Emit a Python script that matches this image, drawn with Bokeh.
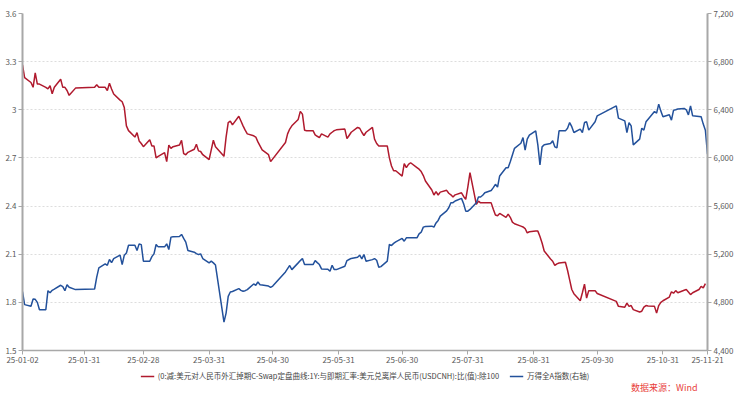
import pandas as pd
from bokeh.plotting import figure
from bokeh.layouts import column
from bokeh.models import (LinearAxis, Range1d, FixedTicker, DatetimeTickFormatter,
                          NumeralTickFormatter, Legend, LegendItem, Label)
from bokeh.embed import file_html
from bokeh.resources import INLINE

YEAR = "2025-"

swap_dates = ["01-02","01-03","01-06","01-07","01-08","01-09","01-10","01-13","01-14","01-15","01-16","01-17",
    "01-20","01-21","01-22","01-23","01-24","01-27","02-05","02-06","02-07","02-10","02-11","02-12","02-13","02-14",
    "02-17","02-18","02-19","02-20","02-21","02-24","02-25","02-26","02-27","02-28","03-03","03-04","03-05","03-06",
    "03-07","03-10","03-11","03-12","03-13","03-14","03-17","03-18","03-19","03-20","03-21","03-24","03-25","03-26",
    "03-27","03-28","03-31","04-01","04-02","04-03","04-07","04-08","04-09","04-10","04-11","04-14","04-15","04-16",
    "04-17","04-18","04-21","04-22","04-23","04-24","04-25","04-28","04-29","05-06","05-07","05-08","05-09","05-12",
    "05-13","05-14","05-15","05-16","05-19","05-20","05-21","05-22","05-23","05-26","05-27","05-28","05-29","05-30",
    "06-03","06-04","06-05","06-06","06-09","06-10","06-11","06-12","06-13","06-16","06-17","06-18","06-19","06-20",
    "06-23","06-24","06-25","06-26","06-27","06-30","07-01","07-02","07-03","07-04","07-07","07-08","07-09","07-10",
    "07-11","07-14","07-15","07-16","07-17","07-18","07-21","07-22","07-23","07-24","07-25","07-28","07-29","07-30",
    "07-31","08-01","08-04","08-05","08-06","08-07","08-08","08-11","08-12","08-13","08-14","08-15","08-18","08-19",
    "08-20","08-21","08-22","08-25","08-26","08-27","08-28","08-29","09-01","09-02","09-03","09-04","09-05","09-08",
    "09-09","09-10","09-11","09-12","09-15","09-16","09-17","09-18","09-19","09-22","09-23","09-24","09-25","09-26",
    "09-29","09-30","10-09","10-10","10-13","10-14","10-15","10-16","10-17","10-20","10-21","10-22","10-23","10-24",
    "10-27","10-28","10-29","10-30","10-31","11-03","11-04","11-05","11-06","11-07","11-10","11-11","11-12","11-13",
    "11-14","11-17","11-18","11-19","11-20"]
swap_values = [3.28,3.20,3.17,3.14,3.23,3.16,3.16,3.14,3.13,3.15,3.10,3.14,
    3.19,3.14,3.14,3.12,3.09,3.135,3.14,3.156,3.14,3.14,3.12,3.165,3.13,3.098,
    3.06,3.05,3.014,2.90,2.87,2.83,2.858,2.806,2.79,2.77,2.814,2.775,2.775,2.70,
    2.71,2.733,2.677,2.78,2.76,2.77,2.78,2.81,2.727,2.72,2.735,2.754,2.785,2.744,
    2.74,2.72,2.69,2.75,2.81,2.77,2.71,2.83,2.92,2.93,2.906,2.96,2.93,2.90,
    2.873,2.85,2.838,2.83,2.80,2.775,2.75,2.72,2.677,2.796,2.85,2.88,2.90,2.94,
    2.99,2.973,2.873,2.87,2.87,2.844,2.835,2.827,2.85,2.83,2.85,2.86,2.87,2.875,
    2.88,2.82,2.84,2.86,2.89,2.885,2.86,2.84,2.86,2.89,2.817,2.79,2.775,2.775,
    2.775,2.70,2.65,2.62,2.62,2.587,2.665,2.64,2.66,2.67,2.64,2.63,2.615,2.59,
    2.556,2.50,2.469,2.49,2.469,2.487,2.498,2.48,2.47,2.456,2.47,2.483,2.46,2.442,
    2.52,2.608,2.41,2.431,2.42,2.42,2.42,2.42,2.38,2.344,2.34,2.354,2.33,2.35,
    2.33,2.30,2.29,2.275,2.27,2.26,2.233,2.24,2.244,2.244,2.21,2.17,2.12,2.07,
    2.056,2.03,2.04,2.045,2.05,2.00,1.94,1.88,1.854,1.81,1.86,1.914,1.827,1.873,
    1.873,1.855,1.806,1.775,1.77,1.795,1.775,1.78,1.755,1.74,1.745,1.77,1.78,1.778,
    1.775,1.733,1.78,1.80,1.81,1.833,1.866,1.857,1.873,1.86,1.875,1.88,1.865,1.848,
    1.86,1.88,1.90,1.89,1.917]

wind_dates = ["01-02","01-03","01-06","01-07","01-08","01-09","01-10","01-13","01-14","01-15","01-16","01-17",
    "01-20","01-21","01-22","01-23","01-24","01-27","02-05","02-06","02-07","02-10","02-11","02-12","02-13","02-14",
    "02-17","02-18","02-19","02-20","02-21","02-24","02-25","02-26","02-27","02-28","03-03","03-04","03-05","03-06",
    "03-07","03-10","03-11","03-12","03-13","03-14","03-17","03-18","03-19","03-20","03-21","03-24","03-25","03-26",
    "03-27","03-28","03-31","04-01","04-02","04-03","04-07","04-08","04-09","04-10","04-11","04-14","04-15","04-16",
    "04-17","04-18","04-21","04-22","04-23","04-24","04-25","04-28","04-29","04-30","05-06","05-07","05-08","05-09",
    "05-12","05-13","05-14","05-15","05-16","05-19","05-20","05-21","05-22","05-23","05-26","05-27","05-28","05-29",
    "05-30","06-03","06-04","06-05","06-06","06-09","06-10","06-11","06-12","06-13","06-16","06-17","06-18","06-19",
    "06-20","06-23","06-24","06-25","06-26","06-27","06-30","07-01","07-02","07-03","07-04","07-07","07-08","07-09",
    "07-10","07-11","07-14","07-15","07-16","07-17","07-18","07-21","07-22","07-23","07-24","07-25","07-28","07-29",
    "07-30","07-31","08-01","08-04","08-05","08-06","08-07","08-08","08-11","08-12","08-13","08-14","08-15","08-18",
    "08-19","08-20","08-21","08-22","08-25","08-26","08-27","08-28","08-29","09-01","09-02","09-03","09-04","09-05",
    "09-08","09-09","09-10","09-11","09-12","09-15","09-16","09-17","09-18","09-19","09-22","09-23","09-24","09-25",
    "09-26","09-29","09-30","10-09","10-10","10-13","10-14","10-15","10-16","10-17","10-20","10-21","10-22","10-23",
    "10-24","10-27","10-28","10-29","10-30","10-31","11-03","11-04","11-05","11-06","11-07","11-10","11-11","11-12",
    "11-13","11-14","11-17","11-18","11-19","11-20","11-21"]
wind_values = [4890,4781,4767,4828,4825,4800,4739,4739,4897,4880,4900,4910,
    4942,4930,4897,4947,4925,4906,4911,5010,5086,5119,5108,5156,5130,5163,
    5192,5114,5192,5210,5275,5275,5231,5286,5280,5142,5142,5180,5203,5281,
    5261,5261,5286,5239,5342,5345,5347,5364,5331,5300,5231,5217,5205,5197,
    5203,5164,5128,5142,5128,5110,4636,4711,4850,4886,4890,4914,4900,4892,
    4897,4906,4953,4942,4969,4947,4945,4935,4925,4935,5053,5080,5106,5072,
    5128,5147,5164,5114,5114,5114,5147,5130,5114,5078,5075,5058,5108,5072,
    5072,5100,5147,5156,5165,5175,5192,5161,5197,5142,5155,5164,5150,5092,
    5097,5142,5281,5272,5290,5303,5331,5308,5336,5336,5336,5336,5369,5383,
    5425,5430,5433,5425,5460,5481,5517,5560,5586,5628,5628,5642,5664,5620,
    5558,5558,5572,5628,5675,5675,5690,5711,5730,5753,5781,5758,5850,5919,
    5919,5969,6025,6080,6122,6169,6064,6156,6190,6225,6108,5942,6092,6110,
    6120,6142,6092,6083,6225,6225,6247,6294,6260,6211,6239,6211,6294,6300,
    6231,6300,6350,6433,6331,6308,6211,6294,6267,6108,6156,6247,6231,6300,
    6322,6386,6372,6447,6389,6342,6358,6314,6397,6400,6406,6411,6400,6358,
    6433,6350,6345,6342,6281,6231,6031]

x_tick_dates = ["01-02","01-31","02-28","03-31","04-30","05-31","06-30","07-31","08-31","09-30","10-31","11-21"]
left_ticks = [1.5, 1.8, 2.1, 2.4, 2.7, 3.0, 3.3, 3.6]
right_ticks = [4400, 4800, 5200, 5600, 6000, 6400, 6800, 7200]

swap_name = "(0:减:美元对人民币外汇掉期C-Swap定盘曲线:1Y:与即期汇率:美元兑离岸人民币(USDCNH):比(值):除100"
wind_name = "万得全A指数(右轴)"
source_text = "数据来源：Wind"
unit_text = "点"

RED = "#B01A2E"
BLUE = "#23519B"
FONT = "Noto Sans CJK SC"
AXIS_GREY = "#A8A8A8"
LABEL_GREY = "#5A5A5A"

sx = pd.to_datetime([YEAR + d for d in swap_dates])
wx = pd.to_datetime([YEAR + d for d in wind_dates])
tick_ms = [pd.Timestamp(YEAR + d).value // 10**6 for d in x_tick_dates]

x0 = pd.Timestamp(YEAR + x_tick_dates[0])
x1 = pd.Timestamp(YEAR + x_tick_dates[-1])

W = 740
p = figure(width=W, height=365, x_axis_type="datetime", output_backend="svg",
           toolbar_location=None, x_range=Range1d(x0, x1), y_range=Range1d(1.5, 3.6),
           min_border_left=22, min_border_right=33, min_border_top=13, min_border_bottom=0)
p.outline_line_color = None
p.background_fill_color = "white"
p.border_fill_color = "white"

p.extra_y_ranges = {"right": Range1d(4400, 7200)}

r1 = p.line(sx, swap_values, line_color=RED, line_width=1.5)
r2 = p.line(wx, wind_values, line_color=BLUE, line_width=1.5, y_range_name="right")

p.xgrid.visible = False
p.ygrid.ticker = FixedTicker(ticks=left_ticks)
p.ygrid.grid_line_color = "#DDDDDD"
p.ygrid.grid_line_dash = "2 2"
p.ygrid.grid_line_width = 1

def style_axis(ax):
    ax.axis_line_color = AXIS_GREY
    ax.major_tick_line_color = AXIS_GREY
    ax.minor_tick_line_color = None
    ax.major_tick_in = 0
    ax.major_tick_out = 4
    ax.major_label_text_color = LABEL_GREY
    ax.major_label_text_font = FONT
    ax.major_label_text_font_size = "8px"
    ax.major_label_standoff = 2

xa = p.xaxis[0]
style_axis(xa)
xa.ticker = FixedTicker(ticks=tick_ms)
xa.formatter = DatetimeTickFormatter(days="%y-%m-%d", months="%y-%m-%d", years="%y-%m-%d")
xa.axis_line_width = 1.5

ya = p.yaxis[0]
style_axis(ya)
ya.ticker = FixedTicker(ticks=left_ticks)
ya.formatter = NumeralTickFormatter(format="0.[0]")
ya.axis_line_width = 2

ra = LinearAxis(y_range_name="right")
style_axis(ra)
ra.ticker = FixedTicker(ticks=right_ticks)
ra.formatter = NumeralTickFormatter(format="0,0")
ra.axis_line_width = 2
p.add_layout(ra, "right")

unit = Label(x=x1, y=3.6, text=unit_text, text_font=FONT, text_font_size="7px",
             text_color="#999999", text_align="center", text_baseline="bottom", y_offset=2)
p.add_layout(unit)

# legend strip below the chart
q = figure(width=W, height=30, output_backend="svg", toolbar_location=None,
           x_range=Range1d(0, 1), y_range=Range1d(0, 1),
           min_border_left=0, min_border_right=0, min_border_top=0, min_border_bottom=0)
q.axis.visible = False
q.grid.visible = False
q.outline_line_color = None
q1 = q.line([5, 6], [5, 6], line_color=RED, line_width=1.5)
q2 = q.line([5, 6], [5, 6], line_color=BLUE, line_width=1.5)
legend = Legend(items=[LegendItem(label=swap_name, renderers=[q1]),
                       LegendItem(label=wind_name, renderers=[q2])],
                orientation="horizontal", location="top_center",
                label_text_font=FONT, label_text_font_size="7.5px", label_text_color="#444444",
                glyph_width=14, glyph_height=8, label_standoff=4, spacing=10,
                padding=0, margin=5, border_line_color=None, background_fill_alpha=0,
                label_height=9)
q.add_layout(legend, "center")

src = Label(x=1, y=0, x_units="data", y_units="data", text=source_text,
            text_color="#E8403A", text_font=FONT, text_font_size="9px",
            text_align="right", text_baseline="bottom", x_offset=-10, y_offset=2)
q.add_layout(src)

open("out.html", "w").write(file_html(column(p, q, spacing=0), INLINE))
